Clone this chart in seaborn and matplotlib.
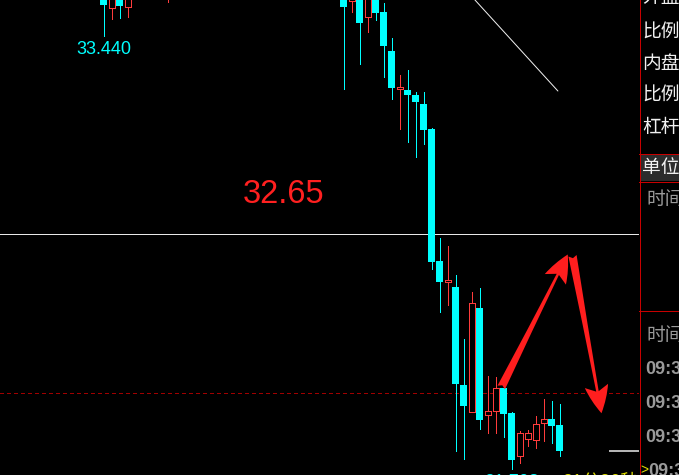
import matplotlib
matplotlib.use("Agg")
import matplotlib.pyplot as plt
import seaborn as sns
from matplotlib.patches import Rectangle, FancyArrowPatch

# Minute bars: slot index, open, high, low, close
slot = [0, 1, 2, 3, 8, 30, 31, 32, 33, 34, 35, 36, 37, 38, 39, 40, 41, 42, 43,
        44, 45, 46, 47, 48, 49, 50, 51, 52, 53, 54, 55, 56, 57]
open_ = [33.608, 33.552, 33.596, 33.556, 33.600, 33.616, 33.580, 33.604, 33.516,
         33.596, 33.536, 33.380, 33.228, 33.224, 33.204, 33.168, 33.068, 32.540,
         32.456, 32.436, 32.044, 31.936, 32.352, 31.924, 31.940, 32.032, 31.932,
         31.760, 31.828, 31.824, 31.892, 31.908, 31.884]
high = [33.624, 33.620, 33.610, 33.620, 33.650, 33.630, 33.620, 33.620, 33.620,
        33.610, 33.572, 33.432, 33.284, 33.304, 33.216, 33.216, 33.072, 32.632,
        32.600, 32.484, 32.228, 32.416, 32.432, 32.080, 32.076, 32.052, 31.936,
        31.860, 31.864, 31.920, 31.988, 31.980, 31.968]
low = [33.440, 33.508, 33.512, 33.516, 33.576, 33.228, 33.536, 33.328, 33.456,
       33.504, 33.276, 33.188, 33.068, 33.016, 32.956, 33.008, 32.508, 32.336,
       32.364, 31.780, 31.748, 31.936, 31.868, 31.852, 31.852, 31.836, 31.708,
       31.732, 31.800, 31.792, 31.820, 31.812, 31.760]
close = [33.564, 33.600, 33.560, 33.604, 33.630, 33.556, 33.596, 33.492, 33.600,
         33.532, 33.400, 33.232, 33.236, 33.204, 33.176, 33.064, 32.536, 32.456,
         32.464, 32.048, 31.960, 32.372, 31.904, 31.940, 32.032, 31.928, 31.744,
         31.852, 31.852, 31.888, 31.908, 31.880, 31.780]

level_price = 32.65      # drawn horizontal level
prev_close = 32.012      # dashed reference line
trend_x = [40.0, 56.8]
trend_y = [33.810, 33.220]
arrow_up = [(49.56, 32.024), (58.19, 32.576)]
arrow_down = [(58.56, 32.572), (62.31, 31.920)]
time_label = "21分36秒"

side_rows = ["外盘", "比例", "内盘", "比例", "杠杆"]
times = ["09:30", "09:31", "09:32", "09:33"]

UP = "#ff3c3c"
DOWN = "#00ffff"
BORDER = "#c80000"

sns.set_theme(style="dark", rc={"axes.facecolor": "black", "figure.facecolor": "black"})
plt.rcParams["font.family"] = ["Noto Sans CJK SC", "DejaVu Sans"]

fig = plt.figure(figsize=(6.79, 4.75), dpi=100)
ax = fig.add_axes([0, 0, 639 / 679, 1])
ax.set_facecolor("black")
ax.set_xlim(-12.9375, 66.9375)
ax.set_ylim(31.684, 33.584)
ax.set_axis_off()

px = 0.72  # one pixel in points
for k, o, h, l, c in zip(slot, open_, high, low, close):
    up = c >= o
    col = UP if up else DOWN
    ax.vlines(k, l, h, color=col, lw=px, antialiased=False, zorder=3)
    if up:
        ax.add_patch(Rectangle((k - 0.375, o), 0.75, c - o, facecolor="black",
                               edgecolor=col, lw=px, antialiased=False, zorder=4))
    else:
        ax.add_patch(Rectangle((k - 0.4375, c), 0.875, o - c, facecolor=col,
                               edgecolor="none", lw=0, antialiased=False, zorder=4))

ax.axhline(level_price, color="#e8e8e8", lw=px, antialiased=False, zorder=2)
ax.axhline(prev_close, color="#a00000", lw=px, ls=(0, (4, 3)), antialiased=False, zorder=2)
ax.hlines(close[-1], 63.2, 66.9375, color="#f0f0f0", lw=px * 1.5, zorder=2)
ax.plot(trend_x, trend_y, color="#f0f0f0", lw=px, zorder=2)

ax.text(17.44, 32.772, f"{level_price:.2f}", ha="left", va="baseline", fontsize=23.5,
        color="#ff2020", family="Liberation Sans")

lo_top = low[0]
ax.annotate(f"{lo_top:.3f}", xy=(slot[0], lo_top), xytext=(0, -18), textcoords="offset pixels",
            ha="center", va="baseline", fontsize=13, color=DOWN, family="Liberation Sans")
i_min = low.index(min(low))
ax.annotate(f"{low[i_min]:.3f}", xy=(slot[i_min], low[i_min]), xytext=(0, -18),
            textcoords="offset pixels", ha="center", va="baseline", fontsize=13,
            color=DOWN, family="Liberation Sans")
ax.annotate(time_label, xy=(slot[i_min], low[i_min]), xytext=(51, -18),
            textcoords="offset pixels", ha="left", va="baseline", fontsize=13,
            color="#e0e000", family=["Liberation Sans", "Noto Sans CJK SC"],
            annotation_clip=False, clip_on=True)

for (a, b) in (arrow_up, arrow_down):
    ax.add_patch(FancyArrowPatch(a, b, arrowstyle="fancy,head_length=1.0,head_width=0.85,tail_width=0.3",
                                 mutation_scale=20, color="#ff1e1e", lw=0, zorder=6))

# side panel in pixel units
pn = fig.add_axes([639 / 679, 0, 40 / 679, 1])
pn.set_facecolor("black")
pn.set_xlim(639, 679)
pn.set_ylim(475, 0)
pn.set_axis_off()
pn.axvline(639.5, color=BORDER, lw=px, antialiased=False)
for yy in (153.5, 181.5, 310.5):
    pn.axhline(yy, color=BORDER, lw=px, antialiased=False)
pn.add_patch(Rectangle((640, 154), 40, 27, facecolor="#2c2c2c", edgecolor="none"))

for i, name in enumerate(side_rows):
    pn.text(642, -2 + i * 31.5 + (3 if i else 0), name, ha="left", va="center", fontsize=13.5,
            color="#f0f0f0", clip_on=False)
pn.text(642, 167, "单位", ha="left", va="center", fontsize=13.5, color="#f0f0f0")
pn.text(646, 200, "时间", ha="left", va="center", fontsize=13.5, color="#9a9a9a")
pn.text(646, 336, "时间", ha="left", va="center", fontsize=13.5, color="#9a9a9a")
for i, t in enumerate(times):
    pn.text(645 + (3 if i == 3 else 0), 374 + i * 34, t, ha="left", va="baseline", fontsize=13,
            fontweight="bold", color="#9a9a9a", family="Liberation Sans")
pn.text(640, 474, ">", ha="left", va="baseline", fontsize=10, color="#e0e000",
        family="Liberation Sans")

fig.savefig("out.png", dpi=100, facecolor="black")
